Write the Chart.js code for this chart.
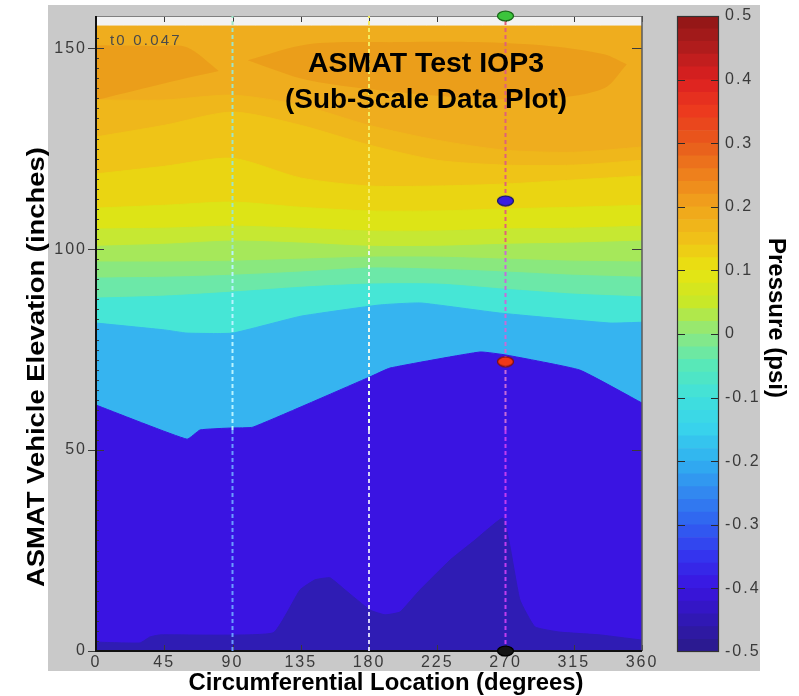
<!DOCTYPE html>
<html>
<head>
<meta charset="utf-8">
<script src="https://cdn.jsdelivr.net/npm/chart.js@4.4.1/dist/chart.umd.min.js"></script>
<style>
  html,body{margin:0;padding:0;background:#fff;}
  #wrap{position:relative;width:799px;height:696px;}
  #main{position:absolute;left:0;top:0;}
  #cbar{position:absolute;left:600px;top:0;}
</style>
</head>
<body>
<div id="wrap">
  <canvas id="main" width="799" height="696"></canvas>
  <canvas id="cbar" width="199" height="696"></canvas>
</div>
<script>
// contour boundaries: degrees (x) vs elevation in inches (y), band colour = band below the curve
const bandDeg = [0,45,90,135,180,225,270,315,360];
const topDeg  = [0,360];
const topElev = [155.5,155.5];
const lev2  = [137.1,137.1,138.3,135.8,130.8,127.1,124.6,124.1,125.4];
const lev3  = [127.9,130.8,134.1,130.8,125.9,122.1,120.9,120.9,122.1];
const lev4  = [118.7,120.6,122.6,117.7,115.7,115.7,116.2,117.2,118.2];
const lev5  = [110.2,110.9,111.7,110.4,109.5,109.5,110.0,110.4,110.9];
const lev6  = [105.0,105.2,105.7,105.2,104.5,104.5,105.0,105.2,105.7];
const lev7  = [100.7,101.2,102.0,101.5,100.7,100.7,101.2,101.5,102.0];
const lev8  = [96.8,96.8,97.0,97.5,98.0,98.0,97.5,97.0,96.8];
const lev9  = [92.8,93.0,93.5,94.3,95.3,95.0,94.3,93.5,93.0];
const lev10 = [87.8,88.3,89.3,90.5,91.3,91.3,90.0,88.8,88.1];
const lev11Deg = [0,45,60,90,135,187,214,266,339,360];
const lev11    = [81.6,79.9,79.1,79.1,83.3,86.1,86.6,84.1,81.6,81.8];
const lev12Deg = [0,60,68.6,89.7,103.5,180.6,193.8,253.2,271,319,360];
const lev12    = [61.2,52.7,55.0,55.5,55.7,68.2,70.4,74.4,73.6,69.9,61.7];
const lev13Deg = [0,29,35.6,42.2,116.7,134.5,144.4,154.3,164.2,180.6,190.5,200.4,213.6,233.4,249.9,268.3,273,279.5,289.4,305.9,332.3,360];
const lev13    = [2.2,2.0,3.5,4.0,4.5,15.2,17.7,18.2,15.2,10.2,9.0,9.7,15.2,22.6,27.6,33.1,25.9,12.7,6.0,4.7,4.0,2.7];

// darker orange islands near the top
const islLDeg = [0,40,60,81];
const islLTop = [150.7,150.5,150.2,144.3];
const islLBot = [137.1,140.8,142.6,144.3];
const islRDeg = [100,140,200,250,300,335,350];
const islRTop = [147.0,151.0,151.5,151.5,150.5,148.5,146.0];
const islRBot = [147.0,142.0,139.0,137.5,137.5,140.0,146.0];

const bandColors = ['#efad1e','#efb71b','#efc417','#ead512','#dde416','#c6e832','#a6e85a',
                    '#8ae87e','#6ce8a8','#46e6d6','#36b4f0','#3a14e2','#2f1cb4'];
const islandColor = '#eb9e1a';

// sensor cut lines and probe markers
const cutDeg  = [90,180,270];
const cutElev = [0,55,100,158];
const cutColors = [['#6a9cff','#b8f4ff','#9ee6c8'],
                   ['#d4d0f8','#e8f8f0','#f4ec60'],
                   ['#c23cf0','#c86ad8','#e0607a']];
const probeDeg  = 270;
const probeElev = [158,112,72,0];
const probeFill = ['#3cc43c','#3a1ee0','#f03818','#141414'];
const probeLine = ['#1a6a1a','#1a1a6a','#801010','#000000'];

// colour bar
const cbarEdges = [-0.5,-0.48,-0.46,-0.44,-0.42,-0.4,-0.38,-0.36,-0.34,-0.32,-0.3,-0.28,-0.26,-0.24,-0.22,
  -0.2,-0.18,-0.16,-0.14,-0.12,-0.1,-0.08,-0.06,-0.04,-0.02,0,0.02,0.04,0.06,0.08,0.1,0.12,0.14,0.16,0.18,
  0.2,0.22,0.24,0.26,0.28,0.3,0.32,0.34,0.36,0.38,0.4,0.42,0.44,0.46,0.48,0.5];
const cmapVals = [-0.5,-0.45,-0.4,-0.35,-0.3,-0.25,-0.2,-0.15,-0.1,-0.05,0,0.05,0.1,0.15,0.2,0.25,0.3,0.35,0.4,0.45,0.5];
const cmapCols = ['#2a1a88','#3018b4','#3a14e0','#3434ee','#3060f0','#3288f0','#30b0f0','#38d2ec','#40e0dc',
                  '#58e8b8','#8ce880','#c8e828','#e8e410','#f0c018','#f0a41c','#ee801c','#e85a1c','#ec3a1e',
                  '#dc2020','#b01c1c','#8e1616'];

const FONT = 'Liberation Sans';
Chart.defaults.font.family = FONT;

function hex(c){ return [1,3,5].map(i=>parseInt(c.slice(i,i+2),16)); }
function cmap(v){
  let i=0; while(i<cmapVals.length-2 && v>cmapVals[i+1]) i++;
  const t=(v-cmapVals[i])/(cmapVals[i+1]-cmapVals[i]), a=hex(cmapCols[i]), b=hex(cmapCols[i+1]);
  return 'rgb('+a.map((x,k)=>Math.round(x+(b[k]-x)*t)).join(',')+')';
}
function pts(d,e){ return d.map((x,i)=>({x, y:e[i]})); }
function ellipse(fill, stroke){
  const cv=document.createElement('canvas'); cv.width=19; cv.height=12;
  const g=cv.getContext('2d'); g.beginPath(); g.ellipse(9.5,6,8,4.8,0,0,Math.PI*2);
  g.fillStyle=fill; g.fill(); g.lineWidth=1.3; g.strokeStyle=stroke; g.stroke();
  return cv;
}

// ---- datasets ----
const contours = [
  [topDeg,topElev],[bandDeg,lev2],[bandDeg,lev3],[bandDeg,lev4],[bandDeg,lev5],[bandDeg,lev6],
  [bandDeg,lev7],[bandDeg,lev8],[bandDeg,lev9],[bandDeg,lev10],[lev11Deg,lev11],[lev12Deg,lev12],[lev13Deg,lev13]
];
const datasets = [];
contours.forEach(([d,e],j)=>{
  datasets.push({id:'c'+(j+1), data:pts(d,e), backgroundColor:bandColors[j], borderColor:bandColors[j],
    borderWidth:1, pointRadius:0, fill:'start', tension: j<10 ? 0.25 : 0.12, order: 2+(contours.length-1-j)});
});
[[islLDeg,islLTop,islLBot],[islRDeg,islRTop,islRBot]].forEach(([d,t,b])=>{
  const bi = datasets.length;
  datasets.push({data:pts(d,b), borderColor:'rgba(0,0,0,0)', borderWidth:0, pointRadius:0, fill:false, tension:0.3, order:13.5});
  datasets.push({data:pts(d,t), backgroundColor:islandColor, borderColor:'rgba(0,0,0,0)', borderWidth:0, pointRadius:0, fill:bi, tension:0.3, order:13.4});
});
cutDeg.forEach((deg,k)=>{
  datasets.push({data:cutElev.map(y=>({x:deg,y})), borderWidth:2, borderDash:[4,3], pointRadius:0, fill:false,
    borderColor:cutColors[k][2], segment:{borderColor:ctx=>cutColors[k][ctx.p0DataIndex]}, order:1});
});
datasets.push({data:probeElev.map(y=>({x:probeDeg,y})), showLine:false, pointRadius:6,
  pointStyle:probeElev.map((_,i)=>ellipse(probeFill[i],probeLine[i])), clip:false, order:0});

// ---- frame, ticks and text ----
function drawFrame(c){
  const ctx=c.ctx, a=c.chartArea, xs=c.scales.x, ys=c.scales.y;
  ctx.save();
  ctx.strokeStyle='#3a3a3a'; ctx.lineWidth=1; ctx.beginPath();
  xs.ticks.forEach(t=>{ const p=Math.round(xs.getPixelForValue(t.value))+0.5;
    ctx.moveTo(p,a.bottom); ctx.lineTo(p,a.bottom-6); ctx.moveTo(p,a.top); ctx.lineTo(p,a.top+6); });
  ys.ticks.forEach(t=>{ const p=Math.round(ys.getPixelForValue(t.value))+0.5;
    ctx.moveTo(a.left-8,p); ctx.lineTo(a.left+8,p); ctx.moveTo(a.right,p); ctx.lineTo(a.right-10,p); });
  for(let v=2.5; v<155; v+=2.5){ const p=Math.round(ys.getPixelForValue(v))+0.5; ctx.moveTo(a.left,p); ctx.lineTo(a.left+3,p); }
  ctx.stroke();
  ctx.lineWidth=1; ctx.strokeStyle='#808080';
  ctx.beginPath(); ctx.moveTo(a.left,a.top+0.5); ctx.lineTo(a.right,a.top+0.5); ctx.stroke();
  ctx.strokeStyle='#5a5a5a'; ctx.lineWidth=1.5;
  ctx.beginPath(); ctx.moveTo(a.right,a.top); ctx.lineTo(a.right,a.bottom); ctx.stroke();
  ctx.strokeStyle='#111'; ctx.lineWidth=2;
  ctx.beginPath(); ctx.moveTo(a.left,a.top); ctx.lineTo(a.left,a.bottom); ctx.lineTo(a.right,a.bottom); ctx.stroke();
  ctx.restore();
}
function drawFit(ctx, txt, x, y, font, w, rot){
  ctx.save(); ctx.letterSpacing='0px'; ctx.font=font;
  const m=ctx.measureText(txt).width;
  ctx.translate(x,y); ctx.rotate(rot); ctx.scale(w/m,1);
  ctx.textAlign='center'; ctx.textBaseline='alphabetic'; ctx.fillStyle='#000';
  ctx.fillText(txt,0,0); ctx.restore();
}
function drawTexts(c){
  const ctx=c.ctx;
  drawFit(ctx,'ASMAT Test IOP3',426,72,'bold 28px '+FONT,236,0);
  drawFit(ctx,'(Sub-Scale Data Plot)',426,108,'bold 28px '+FONT,282,0);
  drawFit(ctx,'Circumferential Location (degrees)',386,690,'bold 24px '+FONT,395,0);
  drawFit(ctx,'ASMAT Vehicle Elevation (inches)',44,367,'bold 24px '+FONT,440,-Math.PI/2);
  drawFit(ctx,'Pressure (psi)',769,318,'bold 24px '+FONT,160,Math.PI/2);
  ctx.save(); ctx.letterSpacing='2.2px'; ctx.font='15px '+FONT; ctx.fillStyle='#4a4a4a';
  ctx.textAlign='left'; ctx.textBaseline='alphabetic'; ctx.fillText('t0 0.047',110,45); ctx.restore();
}
const framePlugin = {
  id:'frame',
  beforeDraw(c){
    const ctx=c.ctx, a=c.chartArea;
    ctx.save(); ctx.fillStyle='#c9c9c9'; ctx.fillRect(48,5,712,666);
    ctx.fillStyle='#f2f2f2'; ctx.fillRect(a.left,a.top,a.right-a.left,a.bottom-a.top); ctx.restore();
    ctx.letterSpacing='2px';
  },
  beforeDatasetsDraw(c){ c.ctx.letterSpacing='0px'; },
  afterDatasetDraw(c,args){ if(c.data.datasets[args.index].id==='c13') drawFrame(c); },
  afterDraw(c){ drawTexts(c); }
};

const tickFont = {family:FONT, size:16};
new Chart(document.getElementById('main'), {
  type:'line',
  data:{datasets},
  options:{
    responsive:false, animation:false, events:[],
    layout:{padding:{left:0,top:16,right:157,bottom:0}},
    plugins:{legend:{display:false}, tooltip:{enabled:false}},
    scales:{
      x:{type:'linear', min:0, max:360, afterFit:s=>{s.height=45;},
         border:{display:false}, grid:{display:false},
         ticks:{stepSize:45, includeBounds:false, autoSkip:false, maxRotation:0, padding:-6, color:'#3a3a3a', font:tickFont}},
      y:{type:'linear', min:0, max:158, afterFit:s=>{s.width=96;},
         border:{display:false}, grid:{display:false},
         ticks:{stepSize:50, includeBounds:false, padding:1, color:'#3a3a3a', font:tickFont}}
    }
  },
  plugins:[framePlugin]
});

// ---- colour bar ----
const cbarSets = cbarEdges.slice(0,-1).map((lo,i)=>({
  data:[[lo,cbarEdges[i+1]]], backgroundColor:cmap((lo+cbarEdges[i+1])/2),
  borderWidth:0, barPercentage:1, categoryPercentage:1, grouped:false
}));
const cbarPlugin = {
  id:'cbarFrame',
  beforeDraw(c){ c.ctx.letterSpacing='2px'; },
  beforeDatasetsDraw(c){ c.ctx.letterSpacing='0px'; },
  afterDraw(c){
    const ctx=c.ctx, a=c.chartArea, ys=c.scales.y;
    ctx.save(); ctx.strokeStyle='#2a2a2a'; ctx.lineWidth=1; ctx.beginPath();
    ys.ticks.forEach(t=>{ if(t.value<=-0.5||t.value>=0.5) return;
      const p=Math.round(ys.getPixelForValue(t.value))+0.5;
      ctx.moveTo(a.left,p); ctx.lineTo(a.left+8,p); ctx.moveTo(a.right,p); ctx.lineTo(a.right-8,p); });
    ctx.stroke();
    ctx.strokeStyle='#333'; ctx.lineWidth=1.2;
    ctx.strokeRect(a.left+0.5,a.top+0.5,a.right-a.left-1,a.bottom-a.top-1);
    ctx.restore();
  }
};
new Chart(document.getElementById('cbar'), {
  type:'bar',
  data:{labels:['p'], datasets:cbarSets},
  options:{
    responsive:false, animation:false, events:[],
    layout:{padding:{left:77,top:16,right:0,bottom:44}},
    plugins:{legend:{display:false}, tooltip:{enabled:false}},
    scales:{
      x:{display:false},
      y:{position:'right', min:-0.5, max:0.5, afterFit:s=>{s.width=80;},
         border:{display:false}, grid:{display:false},
         ticks:{stepSize:0.1, padding:-2, color:'#3a3a3a', font:tickFont}}
    }
  },
  plugins:[cbarPlugin]
});
</script>
</body>
</html>
